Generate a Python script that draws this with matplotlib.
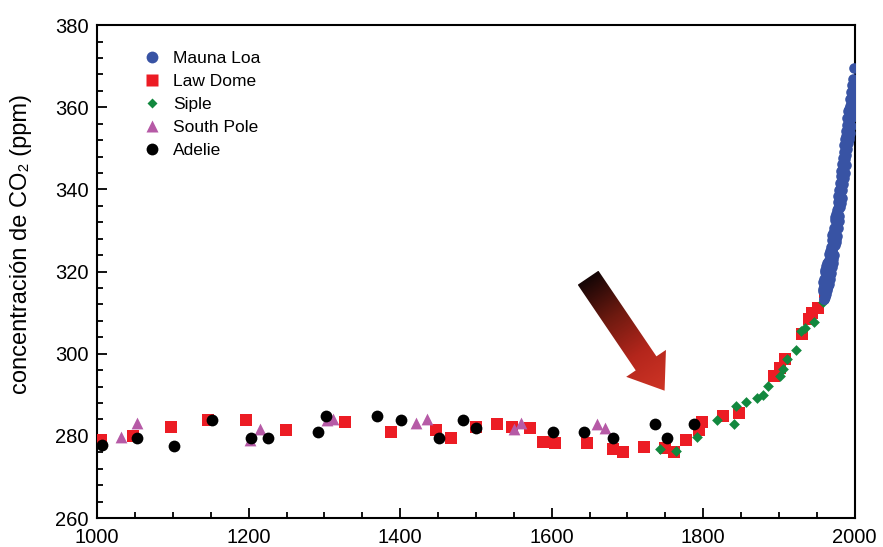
import numpy as np
import matplotlib
matplotlib.use('Agg')
import matplotlib.pyplot as plt
from matplotlib.patches import Polygon
from matplotlib.lines import Line2D
from matplotlib.colors import LinearSegmentedColormap
from matplotlib.ticker import MultipleLocator

plt.rcParams['font.family'] = ['Liberation Sans', 'DejaVu Sans']

# --- data ---
law_year = [1005, 1047, 1098, 1147, 1197, 1249, 1327, 1388, 1447, 1467, 1500,
            1528, 1548, 1572, 1589, 1605, 1647, 1681, 1694, 1722, 1749, 1762,
            1777, 1795, 1799, 1826, 1847, 1894, 1902, 1908, 1931, 1939, 1943,
            1952, 1961]
law_ppm = [279.0, 280.0, 282.2, 283.9, 283.9, 281.4, 283.4, 280.9, 281.4, 279.5, 282.2,
           282.9, 282.2, 281.9, 278.5, 278.3, 278.3, 276.8, 276.1, 277.3, 277.0, 276.1,
           279.0, 281.4, 283.4, 284.8, 285.6, 294.6, 296.5, 298.7, 304.8, 308.4, 309.9,
           311.1, 315.0]

siple_year = [1743, 1764, 1792, 1818, 1841, 1843, 1856, 1871, 1879, 1885,
              1901, 1905, 1910, 1922, 1929, 1935, 1946, 1958]
siple_ppm = [276.8, 276.3, 279.7, 283.9, 282.9, 287.3, 288.2, 289.2, 290.0, 292.1,
             294.6, 296.3, 298.7, 300.9, 305.5, 306.2, 307.7, 312.6]

sp_year = [1032, 1052, 1202, 1215, 1303, 1311, 1421, 1435, 1550, 1560, 1660, 1670]
sp_ppm = [279.7, 283.1, 279.0, 281.7, 283.9, 284.1, 283.1, 284.1, 281.7, 283.1, 282.9, 281.9]

adelie_year = [1006, 1053, 1101, 1152, 1203, 1226, 1291, 1302, 1370, 1401, 1451,
               1483, 1500, 1602, 1643, 1681, 1737, 1752, 1788]
adelie_ppm = [277.8, 279.5, 277.6, 283.9, 279.5, 279.5, 280.9, 284.8, 284.8, 283.9, 279.5,
              283.9, 281.9, 280.9, 280.9, 279.5, 282.9, 279.5, 282.9]

# Mauna Loa: per year values for winter, May peak, mid-year mean, October low
ml_years = list(range(1958, 1999))
ml_jan = [315.7, 315.6, 316.4, 317.0, 317.9, 318.7, 319.4, 319.4, 320.6, 322.1,
          322.4, 324.0, 325.0, 326.1, 326.9, 328.7, 329.4, 330.6, 331.6, 332.9,
          334.9, 336.1, 337.9, 339.4, 340.8, 341.6, 344.1, 345.3, 346.8, 348.4,
          350.8, 352.9, 353.8, 354.9, 356.2, 356.9, 358.3, 359.9, 362.1, 363.2,
          365.3]
ml_may = [317.5, 318.3, 320.0, 320.5, 321.3, 322.1, 322.3, 322.8, 324.2, 325.0,
          326.0, 327.7, 328.9, 329.3, 330.7, 332.5, 333.2, 334.0, 335.0, 336.9,
          338.5, 339.9, 341.5, 343.3, 344.6, 346.2, 347.6, 349.1, 350.7, 352.4,
          354.2, 355.8, 357.4, 359.0, 359.5, 360.2, 362.0, 363.8, 365.5, 366.8,
          369.5]
ml_mean = [315.3, 316.0, 316.9, 317.6, 318.5, 319.0, 319.6, 320.0, 321.4, 322.2,
           323.0, 324.6, 325.7, 326.3, 327.5, 329.7, 330.2, 331.1, 332.0, 333.8,
           335.4, 336.8, 338.8, 340.1, 341.4, 343.0, 344.6, 346.1, 347.4, 349.2,
           351.6, 353.1, 354.4, 355.6, 356.5, 357.1, 358.8, 360.8, 362.6, 363.7,
           366.7]
ml_oct = [313.4, 313.3, 313.8, 314.6, 315.4, 315.9, 316.5, 317.0, 318.1, 319.1,
          319.7, 321.1, 322.2, 323.0, 324.1, 326.5, 327.2, 327.9, 328.6, 330.7,
          332.2, 333.5, 335.7, 336.7, 337.9, 339.9, 341.3, 342.8, 344.0, 346.0,
          348.4, 349.9, 351.2, 352.3, 352.9, 353.8, 355.5, 357.6, 359.3, 360.5,
          364.0]

ml_x = []
ml_y = []
for yr, a, b, c, d in zip(ml_years, ml_jan, ml_may, ml_mean, ml_oct):
    ml_x += [yr + 0.05, yr + 0.38, yr + 0.55, yr + 0.8]
    ml_y += [a, b, c, d]

# colours
c_ml = '#3853a4'
c_law = '#ec1c24'
c_siple = '#12883e'
c_sp = '#b65aa6'
c_adelie = 'black'

# --- figure ---
fig = plt.figure(figsize=(8.83, 5.47), dpi=100)
ax = fig.add_axes([0.110, 0.053, 0.858, 0.901])
ax.set_xlim(1000, 2000)
ax.set_ylim(260, 380)

ax.scatter(law_year, law_ppm, marker='s', s=82, color=c_law, lw=0, zorder=3)
ax.scatter(siple_year, siple_ppm, marker='D', s=30, color=c_siple, lw=0, zorder=4)
ax.scatter(sp_year, sp_ppm, marker='^', s=72, color=c_sp, lw=0, zorder=4)
ax.scatter(adelie_year, adelie_ppm, marker='o', s=72, color=c_adelie, lw=0, zorder=5)
ax.scatter(ml_x, ml_y, marker='o', s=58, color=c_ml, lw=0, zorder=6)

# legend
handles = [
    Line2D([], [], ls='none', marker='o', ms=8.5, mfc=c_ml, mec='none'),
    Line2D([], [], ls='none', marker='s', ms=9, mfc=c_law, mec='none'),
    Line2D([], [], ls='none', marker='D', ms=5.5, mfc=c_siple, mec='none'),
    Line2D([], [], ls='none', marker='^', ms=8.5, mfc=c_sp, mec='none'),
    Line2D([], [], ls='none', marker='o', ms=8.5, mfc=c_adelie, mec='none'),
]
labels = ['Mauna Loa', 'Law Dome', 'Siple', 'South Pole', 'Adelie']
ax.legend(handles, labels, loc='upper left', bbox_to_anchor=(0.05, 0.962),
          frameon=False, fontsize=12.5, handletextpad=0.6, labelspacing=0.45,
          borderaxespad=0, handlelength=1.2)

# ticks
ax.xaxis.set_major_locator(MultipleLocator(200))
ax.xaxis.set_minor_locator(MultipleLocator(50))
ax.yaxis.set_major_locator(MultipleLocator(20))
ax.yaxis.set_minor_locator(MultipleLocator(4))
ax.tick_params(which='both', direction='in', top=False, right=False, width=1.3)
ax.tick_params(which='major', length=7, labelsize=14.5)
ax.tick_params(which='minor', length=4)
ax.tick_params(axis='x', which='major', pad=7)
ax.tick_params(axis='y', which='major', pad=6)
for s in ax.spines.values():
    s.set_linewidth(1.5)

ax.set_ylabel('concentración de CO₂ (ppm)', fontsize=17)
ax.yaxis.set_label_coords(-0.086, 0.555)

# gradient arrow (dark tail -> red head)
tail = ax.transData.transform((1648, 318.5))
tip = ax.transData.transform((1749, 291.0))
d = tip - tail
L = np.hypot(*d)
u = d / L
n = np.array([-u[1], u[0]])
shaft_w, head_w, head_l = 12.5, 24.0, 33.0
base = tip - u * head_l
pts = np.array([tail + n * shaft_w, base + n * shaft_w, base + n * head_w, tip,
                base - n * head_w, base - n * shaft_w, tail - n * shaft_w])
pts_data = ax.transData.inverted().transform(pts)

glow = Polygon(pts_data, closed=True, facecolor='none', edgecolor='white',
               lw=4, zorder=7, alpha=0.9)
ax.add_patch(glow)
clip = Polygon(pts_data, closed=True, facecolor='none', edgecolor='none', zorder=8)
ax.add_patch(clip)

x0, y0 = pts_data.min(axis=0)
x1, y1 = pts_data.max(axis=0)
GX, GY = np.meshgrid(np.linspace(x0, x1, 120), np.linspace(y0, y1, 120))
disp = ax.transData.transform(np.column_stack([GX.ravel(), GY.ravel()]))
t = np.clip(((disp - tail) @ u) / L, 0, 1).reshape(GX.shape)
cmap = LinearSegmentedColormap.from_list('arr', ['#160606', '#6e1a10', '#b4261c', '#cf3526'])
im = ax.imshow(t, extent=(x0, x1, y0, y1), origin='lower', cmap=cmap,
               aspect='auto', zorder=8, interpolation='bilinear')
im.set_clip_path(clip)
ax.set_xlim(1000, 2000)
ax.set_ylim(260, 380)

fig.savefig('out.png', dpi=100)
